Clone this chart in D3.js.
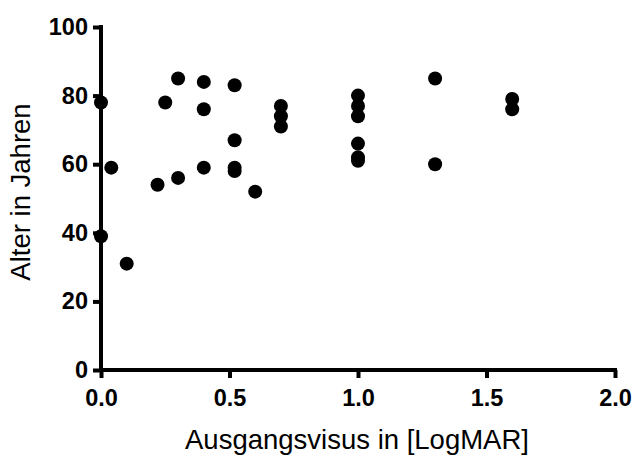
<!DOCTYPE html>
<html>
<head>
<meta charset="utf-8">
<script src="https://cdn.jsdelivr.net/npm/d3@7"></script>
<style>
  html, body { margin: 0; padding: 0; background: #fff; }
  svg { display: block; }
</style>
</head>
<body>
<svg id="chart" width="634" height="455"></svg>
<script>
// Data: Ausgangsvisus [LogMAR] vs. Alter in Jahren
const visus = [0, 0, 0.04, 0.1, 0.22, 0.25, 0.3, 0.3, 0.4, 0.4, 0.4, 0.52, 0.52, 0.52, 0.52, 0.6,
               0.7, 0.7, 0.7, 1.0, 1.0, 1.0, 1.0, 1.0, 1.0, 1.3, 1.3, 1.6, 1.6];
const alter = [78, 39, 59, 31, 54, 78, 85, 56, 84, 76, 59, 83, 67, 59, 58, 52,
               77, 74, 71, 80, 77, 74, 66, 62, 61, 85, 60, 79, 76];
const xTicks = [0, 0.5, 1.0, 1.5, 2.0];
const yTicks = [0, 20, 40, 60, 80, 100];
const xTitle = "Ausgangsvisus in [LogMAR]";
const yTitle = "Alter in Jahren";

const svg = d3.select("#chart");
const x = d3.scaleLinear().domain([0, 2]).range([101, 615]);
const y = d3.scaleLinear().domain([0, 100]).range([370, 27]);

const font = "'Liberation Sans', Arial, sans-serif";

const xAxis = d3.axisBottom(x).tickValues(xTicks).tickFormat(d3.format(".1f")).tickSizeOuter(0).tickSizeInner(8).tickPadding(11);
const yAxis = d3.axisLeft(y).tickValues(yTicks).tickFormat(d3.format("d")).tickSizeOuter(0).tickSizeInner(8).tickPadding(5);

const gx = svg.append("g").attr("transform", "translate(0,370)").call(xAxis);
const gy = svg.append("g").attr("transform", "translate(101,0)").call(yAxis);

[gx, gy].forEach(g => {
  g.select(".domain").attr("stroke", "#000").attr("stroke-width", 4);
  g.selectAll(".tick line").attr("stroke", "#000").attr("stroke-width", 4);
  g.selectAll(".tick text")
    .attr("fill", "#000")
    .style("font-family", font)
    .style("font-weight", "bold")
    .style("font-size", "23.5px");
});
gx.select(".domain").attr("d", `M${x(0) - 2},0H${x(2) + 2}`);
gy.select(".domain").attr("d", `M0,${y(100) - 2}V${y(0) + 2}`);

svg.append("g").selectAll("circle")
  .data(visus.map((v, i) => [v, alter[i]]))
  .join("circle")
  .attr("cx", d => x(d[0]))
  .attr("cy", d => y(d[1]))
  .attr("r", 7)
  .attr("fill", "#000");

svg.append("text")
  .attr("x", 357).attr("y", 449)
  .attr("text-anchor", "middle")
  .style("font-family", font)
  .style("font-size", "27.5px")
  .attr("fill", "#000")
  .text(xTitle);

svg.append("text")
  .attr("transform", "translate(30,192) rotate(-90)")
  .attr("text-anchor", "middle")
  .style("font-family", font)
  .style("font-size", "27.5px")
  .attr("fill", "#000")
  .text(yTitle);
</script>
</body>
</html>
